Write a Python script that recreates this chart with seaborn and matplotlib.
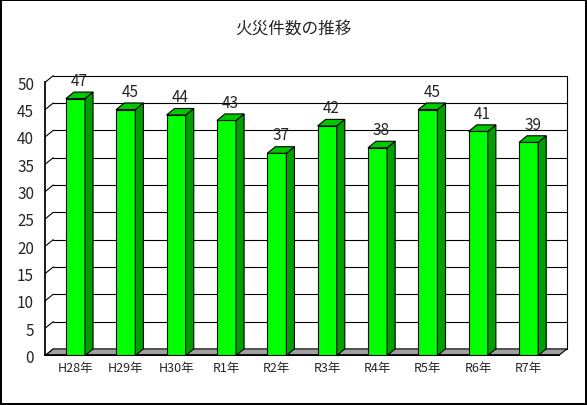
import matplotlib
matplotlib.use("Agg")
import matplotlib.pyplot as plt
import seaborn as sns
import pandas as pd
from matplotlib.patches import Polygon

categories = ["H28年", "H29年", "H30年", "R1年", "R2年", "R3年", "R4年", "R5年", "R6年", "R7年"]
values = [47, 45, 44, 43, 37, 42, 38, 45, 41, 39]
yticks = list(range(0, 51, 5))

sns.set_theme(style="white")
plt.rcParams['font.family'] = ['Noto Sans CJK JP', 'DejaVu Sans']

fig = plt.figure(figsize=(5.87, 4.06), dpi=100)
fig.patch.set_edgecolor("black")
fig.patch.set_linewidth(1.5)
ax = fig.add_axes([0.077, 0.122, 0.875, 0.673])
df = pd.DataFrame({"cat": categories, "val": values})
sns.barplot(data=df, x="cat", y="val", ax=ax, color="#00ff00", saturation=1,
            width=0.38, edgecolor="black", linewidth=0.8, zorder=3)

dx, dy = 0.16, 1.2
ax.set_xlim(-0.6, 9.6)
ax.set_ylim(0, 50)
for t in yticks:
    ax.plot([-0.6 + dx, 9.6 + dx], [t + dy, t + dy], color="black", lw=0.8, zorder=1, clip_on=False)
    ax.plot([-0.6, -0.6 + dx], [t, t + dy], color="black", lw=0.8, zorder=1, clip_on=False)
ax.plot([9.6 + dx, 9.6 + dx], [dy, 50 + dy], color="black", lw=0.8, zorder=1, clip_on=False)
ax.add_patch(Polygon([(-0.6, 0), (-0.6 + dx, dy), (9.6 + dx, dy), (9.6, 0)],
                     closed=True, facecolor="#a0a0a0", edgecolor="black", lw=0.8,
                     zorder=2, clip_on=False))
for p, v in zip(ax.patches[:len(values)], values):
    x0 = p.get_x(); w = p.get_width()
    ax.add_patch(Polygon([(x0 + w, 0), (x0 + w + dx, dy), (x0 + w + dx, v + dy), (x0 + w, v)],
                         facecolor="#00a000", edgecolor="black", lw=0.8, zorder=3))
    ax.add_patch(Polygon([(x0, v), (x0 + dx, v + dy), (x0 + w + dx, v + dy), (x0 + w, v)],
                         facecolor="#00c800", edgecolor="black", lw=0.8, zorder=3))
    ax.text(x0 + w / 2 + dx / 2, v + dy + 0.6, str(v), ha="center", va="bottom", fontsize=11, zorder=4)

ax.set_yticks(yticks)
ax.tick_params(axis="y", labelsize=11, length=0, pad=8)
ax.tick_params(axis="x", labelsize=9, length=0, pad=4)
ax.set_xlabel(""); ax.set_ylabel("")
for s in ["top", "right"]:
    ax.spines[s].set_visible(False)
ax.spines["left"].set_color("black"); ax.spines["bottom"].set_color("black")
fig.suptitle("火災件数の推移", y=0.95, fontsize=12)
fig.savefig("out.png", dpi=100, edgecolor=fig.get_edgecolor())
